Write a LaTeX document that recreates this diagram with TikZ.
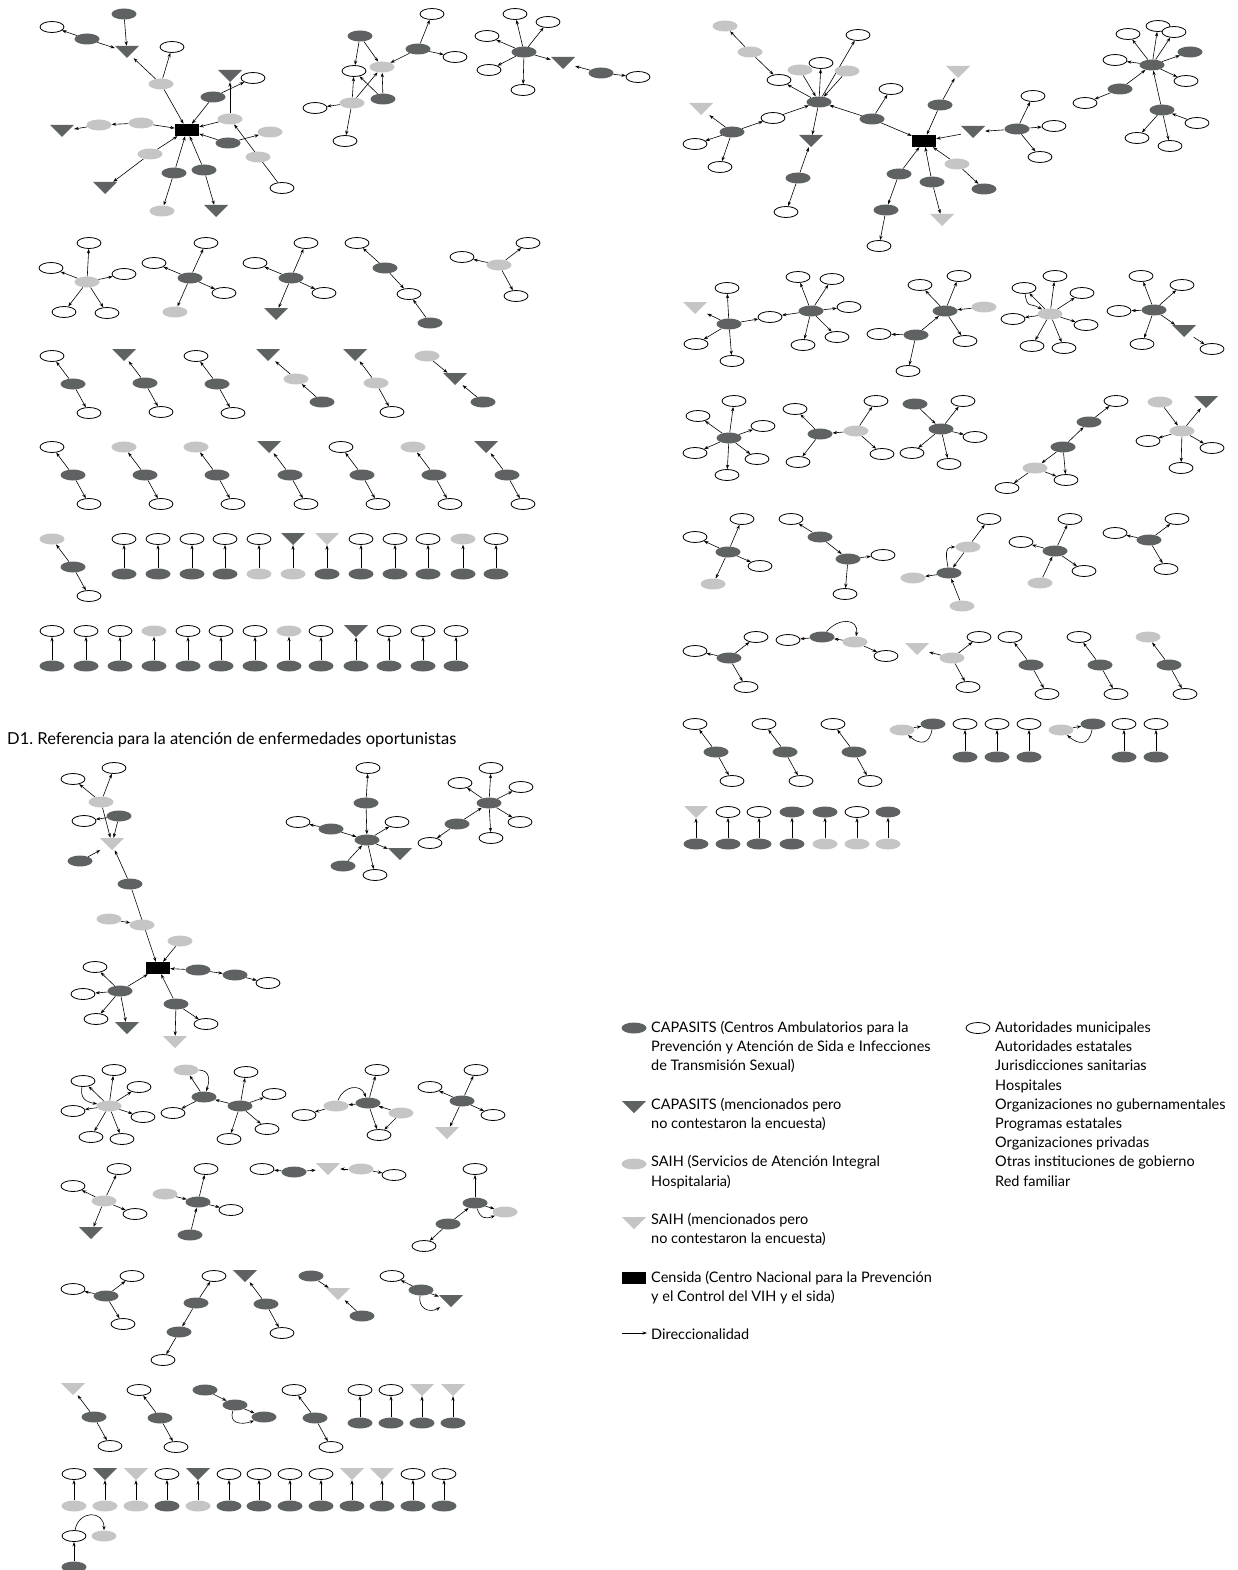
\documentclass[tikz,border=0pt]{standalone}
\usepackage{fontspec}
\setmainfont{Lato}
\usetikzlibrary{shapes.geometric,arrows.meta}
\definecolor{dkg}{RGB}{94,98,98}
\definecolor{ltg}{RGB}{196,197,196}
\pgfdeclarelayer{bg}
\pgfsetlayers{bg,main}
\tikzset{
  nw/.style={ellipse,draw=black,line width=0.8pt,fill=white,minimum width=24pt,minimum height=11pt,inner sep=0pt},
  nd/.style={ellipse,fill=dkg,minimum width=25pt,minimum height=11pt,inner sep=0pt},
  nl/.style={ellipse,fill=ltg,minimum width=25pt,minimum height=11pt,inner sep=0pt},
  tri/.style={rectangle,minimum width=24pt,minimum height=12pt,inner sep=0pt,
     path picture={\fill[#1] (path picture bounding box.north west) -- (path picture bounding box.north east) -- (path picture bounding box.south) -- cycle;}},
  nt/.style={tri=dkg},
  ntl/.style={tri=ltg},
  nr/.style={rectangle,fill=black,minimum width=24pt,minimum height=12pt,inner sep=0pt},
  arr/.style={line width=0.6pt,-{Stealth[length=4.5pt,width=3.2pt]}},
  leg/.style={anchor=base west,inner sep=0pt,font=\fontsize{14.5}{19}\selectfont},
  ttl/.style={anchor=base west,inner sep=0pt,font=\fontsize{16.5}{20}\selectfont},
}
\newcommand\myfan[2]{\begin{pgfonlayer}{bg}\foreach \q in {#2}{\draw[arr] (#1) -- (\q);}\end{pgfonlayer}}
\begin{document}
\begin{tikzpicture}[x=1pt,y=-1pt]
\useasboundingbox (0,0) rectangle (1238,1570);

% ---------- group a (top-left star)
\node[nd] (a1) at (124,14) {};
\node[nw] (a2) at (52,27) {};
\node[nd] (a3) at (87,39) {};
\node[nt] (a4) at (127,52) {};
\node[nw] (a5) at (172,47) {};
\node[nl] (a6) at (161,84) {};
\node[nt] (a7) at (230,76) {};
\node[nw] (a8) at (253,78) {};
\node[nd] (a9) at (213,97) {};
\node[nl] (a10) at (230,119) {};
\node[nt] (a11) at (62,131) {};
\node[nl] (a12) at (99,125) {};
\node[nl] (a13) at (141,123) {};
\node[nr] (a14) at (187,130) {};
\node[nl] (a15) at (270,132) {};
\node[nd] (a16) at (228,143) {};
\node[nl] (a17) at (150,154) {};
\node[nl] (a18) at (258,157) {};
\node[nd] (a19) at (174,173) {};
\node[nd] (a20) at (204,170) {};
\node[nw] (a21) at (282,188) {};
\node[nt] (a22) at (105,188) {};
\node[nl] (a23) at (162,211) {};
\node[nt] (a24) at (216,211) {};
\myfan{a1}{a4}
\myfan{a3}{a2,a4}
\myfan{a6}{a4,a5,a14}
\myfan{a9}{a14,a8}
\myfan{a10}{a7,a14}
\myfan{a13}{a14,a12}
\myfan{a12}{a11}
\myfan{a16}{a14,a15}
\myfan{a21}{a10}
\myfan{a17}{a14,a22}
\myfan{a19}{a14,a23}
\myfan{a20}{a14,a24}

% ---------- group b
\node[nw] (b1) at (432,14) {};
\node[nd] (b2) at (360,36) {};
\node[nd] (b3) at (418,49) {};
\node[nw] (b4) at (455,57) {};
\node[nw] (b5) at (354,71) {};
\node[nl] (b6) at (382,67) {};
\node[nw] (b7) at (315,108) {};
\node[nl] (b8) at (352,103) {};
\node[nd] (b9) at (383,99) {};
\node[nw] (b10) at (345,141) {};
\myfan{b3}{b1,b4,b6}
\myfan{b2}{b5,b6}
\myfan{b8}{b5,b6,b7,b10}
\myfan{b9}{b5,b6}

% ---------- group c
\node[nw] (c1) at (515,14) {};
\node[nw] (c2) at (548,22) {};
\node[nw] (c3) at (487,36) {};
\node[nd] (c4) at (524,52) {};
\node[nw] (c5) at (489,70) {};
\node[nt] (c6) at (563,63) {};
\node[nd] (c7) at (601,73) {};
\node[nw] (c8) at (638,77) {};
\node[nw] (c9) at (523,90) {};
\myfan{c4}{c1,c2,c3,c5,c9,c6}
\myfan{c7}{c6,c8}

% ---------- group d (top-right star)
\node[nl] (d1) at (725,26) {};
\node[nl] (d2) at (750,52) {};
\node[nw] (d3) at (858,35) {};
\node[nw] (d4) at (821,63) {};
\node[nl] (d5) at (800,70) {};
\node[nl] (d6) at (847,71) {};
\node[nw] (d7) at (779,80) {};
\node[ntl] (d8) at (958,72) {};
\node[nw] (d9) at (891,89) {};
\node[nd] (d10) at (819,102) {};
\node[nw] (d11) at (1033,96) {};
\node[ntl] (d12) at (701,109) {};
\node[nw] (d13) at (773,118) {};
\node[nd] (d14) at (872,119) {};
\node[nd] (d15) at (940,105) {};
\node[nd] (d16) at (732,132) {};
\node[nt] (d17) at (811,141) {};
\node[nr] (d18) at (924,141) {};
\node[nt] (d19) at (973,132) {};
\node[nd] (d20) at (1017,129) {};
\node[nw] (d21) at (1054,126) {};
\node[nw] (d22) at (695,144) {};
\node[nw] (d23) at (720,167) {};
\node[nw] (d24) at (1040,157) {};
\node[nl] (d25) at (957,164) {};
\node[nd] (d26) at (899,174) {};
\node[nd] (d27) at (932,182) {};
\node[nd] (d28) at (798,178) {};
\node[nd] (d29) at (984,189) {};
\node[nw] (d30) at (786,212) {};
\node[nd] (d31) at (886,210) {};
\node[ntl] (d32) at (942,220) {};
\node[nw] (d33) at (879,246) {};
\myfan{d2}{d1,d7}
\myfan{d10}{d7,d4,d3,d17}
\myfan{d5}{d10}
\myfan{d6}{d10}
\myfan{d28}{d17,d30}
\myfan{d14}{d10,d9,d18}
\myfan{d16}{d13,d12,d22,d23}
\myfan{d13}{d10}
\myfan{d15}{d8,d18}
\myfan{d19}{d18}
\myfan{d20}{d19,d11,d21,d24}
\myfan{d25}{d18,d29}
\myfan{d26}{d18,d31}
\myfan{d31}{d33}
\myfan{d27}{d18,d32}

% ---------- group f (far right)
\node[nw] (f1) at (1158,26) {};
\node[nw] (f2) at (1128,34) {};
\node[nw] (f3) at (1174,32) {};
\node[nd] (f4) at (1190,52) {};
\node[nw] (f5) at (1115,60) {};
\node[nd] (f6) at (1152,65) {};
\node[nw] (f7) at (1186,81) {};
\node[nd] (f8) at (1120,89) {};
\node[nw] (f9) at (1085,103) {};
\node[nd] (f10) at (1162,110) {};
\node[nw] (f11) at (1197,123) {};
\node[nw] (f12) at (1137,138) {};
\node[nw] (f13) at (1170,146) {};
\myfan{f6}{f1,f2,f3,f4,f5,f7}
\myfan{f8}{f6,f9}
\myfan{f10}{f6,f12,f13}
\myfan{f11}{f10}

% ---------- row 2 left
\node[nl] (g1) at (87,282) {};
\node[nw] (g2) at (89,243) {};
\node[nw] (g3) at (51,268) {};
\node[nw] (g4) at (124,274) {};
\node[nw] (g5) at (64,312) {};
\node[nw] (g6) at (107,313) {};
\myfan{g1}{g2,g3,g4,g5,g6}
\node[nd] (h1) at (190,278) {};
\node[nw] (h2) at (206,243) {};
\node[nw] (h3) at (154,263) {};
\node[nw] (h4) at (224,293) {};
\node[nl] (h5) at (175,312) {};
\myfan{h1}{h2,h3,h4,h5}
\node[nd] (i1) at (291,278) {};
\node[nw] (i2) at (306,243) {};
\node[nw] (i3) at (255,263) {};
\node[nw] (i4) at (324,293) {};
\node[nt] (i5) at (276,314) {};
\myfan{i1}{i2,i3,i4,i5}
\node[nw] (j1) at (357,243) {};
\node[nd] (j2) at (385,268) {};
\node[nw] (j3) at (409,294) {};
\node[nd] (j4) at (430,323) {};
\myfan{j2}{j1,j3}
\myfan{j4}{j3}
\node[nl] (k1) at (499,265) {};
\node[nw] (k2) at (462,257) {};
\node[nw] (k3) at (528,243) {};
\node[nw] (k4) at (516,296) {};
\myfan{k1}{k2,k3,k4}

% ---------- row 3 specials
\node[nt] (m1) at (268,355) {};
\node[nl] (m2) at (296,379) {};
\node[nd] (m3) at (322,402) {};
\myfan{m2}{m1}
\myfan{m3}{m2}
\node[nl] (n1) at (427,356) {};
\node[nt] (n2) at (455,379) {};
\node[nd] (n3) at (483,402) {};
\myfan{n1}{n2}
\myfan{n3}{n2}

% ---------- chains (top <- mid -> bottom)
\foreach \x/\y/\s/\m [count=\i] in {52/356/nw/nd, 124/355/nt/nd, 196/356/nw/nd, 355/355/nt/nl,
  52/447/nw/nd, 124/447/nl/nd, 196/447/nl/nd, 269/447/nt/nd, 341/447/nw/nd, 413/447/nl/nd, 486/447/nt/nd,
  52/539/nl/nd, 1010/637/nw/nd, 1079/637/nw/nd, 1148/637/nl/nd,
  695/724/nw/nd, 764/724/nw/nd, 833/724/nw/nd, 245/1276/nt/nd,
  73/1389/ntl/nd, 139/1390/nw/nd, 294/1390/nw/nd}{
  \node[\s] (ct\i) at (\x,\y) {};
  \node[\m] (cm\i) at (\x+21,\y+28) {};
  \node[nw] (cb\i) at (\x+37,\y+57) {};
  \begin{pgfonlayer}{bg}\draw[arr] (cm\i) -- (ct\i); \draw[arr] (cm\i) -- (cb\i);\end{pgfonlayer}
}

% ---------- pairs (bottom -> top)
\foreach \x/\y/\yb/\s/\b [count=\i] in {
  124/539/574/nw/nd, 158/539/574/nw/nd, 192/539/574/nw/nd, 225/539/574/nw/nd, 259/539/574/nw/nl, 293/539/574/nt/nl,
  327/539/574/ntl/nd, 361/539/574/nw/nd, 395/539/574/nw/nd, 428/539/574/nw/nd, 463/539/574/nl/nd, 496/539/574/nw/nd,
  52/631/666/nw/nd, 86/631/666/nw/nd, 120/631/666/nw/nd, 154/631/666/nl/nd, 188/631/666/nw/nd, 221/631/666/nw/nd,
  255/631/666/nw/nd, 289/631/666/nl/nd, 321/631/666/nw/nd, 356/631/666/nt/nd, 389/631/666/nw/nd, 423/631/666/nw/nd, 456/631/666/nw/nd,
  965/724/757/nw/nd, 997/724/757/nw/nd, 1029/724/757/nw/nd, 1124/724/757/nw/nd, 1156/724/757/nw/nd,
  696/812/844/ntl/nd, 728/812/844/nw/nd, 759/812/844/nw/nd, 792/812/844/nd/nd, 825/812/844/nd/nl, 857/812/844/nw/nl, 888/812/844/nd/nl,
  360/1390/1423/nw/nd, 391/1390/1423/nw/nd, 422/1390/1423/ntl/nd, 453/1390/1423/ntl/nd,
  74/1474/1506/nw/nl, 105/1474/1506/nt/nl, 136/1474/1506/ntl/nl, 167/1474/1506/nw/nd, 198/1474/1506/nt/nl, 229/1474/1506/nw/nd,
  259/1474/1506/nw/nd, 290/1474/1506/nw/nd, 321/1474/1506/nw/nd, 352/1474/1506/ntl/nd, 382/1474/1506/ntl/nd, 413/1474/1506/nw/nd, 444/1474/1506/nw/nd}{
  \node[\s] (pt\i) at (\x,\y) {};
  \node[\b] (pb\i) at (\x,\yb) {};
  \begin{pgfonlayer}{bg}\draw[arr] (pb\i) -- (pt\i);\end{pgfonlayer}
}

% ---------- right row A
\node[ntl] (ra1) at (695,308) {};
\node[nw] (ra2) at (727,288) {};
\node[nd] (ra3) at (729,324) {};
\node[nw] (ra4) at (696,344) {};
\node[nw] (ra5) at (732,361) {};
\node[nw] (ra6) at (770,317) {};
\node[nd] (ra7) at (811,311) {};
\node[nw] (ra8) at (798,277) {};
\node[nw] (ra9) at (832,279) {};
\node[nw] (ra10) at (849,307) {};
\node[nw] (ra11) at (837,337) {};
\node[nw] (ra12) at (803,345) {};
\myfan{ra3}{ra1,ra2,ra4,ra5,ra6}
\myfan{ra7}{ra6,ra8,ra9,ra10,ra11,ra12}
\node[nw] (rb1) at (920,285) {};
\node[nw] (rb2) at (959,276) {};
\node[nd] (rb3) at (945,311) {};
\node[nl] (rb4) at (984,307) {};
\node[nd] (rb5) at (916,335) {};
\node[nw] (rb6) at (879,334) {};
\node[nw] (rb7) at (965,341) {};
\node[nw] (rb8) at (908,371) {};
\myfan{rb3}{rb1,rb2,rb7}
\myfan{rb4}{rb3}
\myfan{rb5}{rb3,rb6,rb8}
\node[nw] (rc1) at (1024,288) {};
\node[nw] (rc2) at (1055,276) {};
\node[nw] (rc3) at (1082,293) {};
\node[nl] (rc4) at (1050,314) {};
\node[nw] (rc5) at (1013,319) {};
\node[nw] (rc6) at (1086,325) {};
\node[nw] (rc7) at (1032,346) {};
\node[nw] (rc8) at (1064,348) {};
\myfan{rc4}{rc1,rc2,rc3,rc5,rc6,rc7,rc8}
\begin{pgfonlayer}{bg}\draw[arr] (rc1) to[out=-80,in=150,looseness=1.8] (rc4);\end{pgfonlayer}
\node[nw] (rd1) at (1141,276) {};
\node[nw] (rd2) at (1182,285) {};
\node[nd] (rd3) at (1154,310) {};
\node[nw] (rd4) at (1119,311) {};
\node[nw] (rd5) at (1142,344) {};
\node[nt] (rd6) at (1184,331) {};
\node[nw] (rd7) at (1212,349) {};
\myfan{rd3}{rd1,rd2,rd4,rd5,rd6}
\myfan{rd6}{rd7}

% ---------- right row B
\node[nw] (re1) at (734,401) {};
\node[nw] (re2) at (698,416) {};
\node[nw] (re3) at (763,426) {};
\node[nd] (re4) at (729,438) {};
\node[nw] (re5) at (695,453) {};
\node[nw] (re6) at (757,459) {};
\node[nw] (re7) at (727,475) {};
\myfan{re4}{re1,re2,re3,re5,re6,re7}
\node[nw] (rf1) at (795,409) {};
\node[nd] (rf2) at (820,434) {};
\node[nl] (rf3) at (856,431) {};
\node[nw] (rf4) at (876,401) {};
\node[nw] (rf5) at (798,462) {};
\node[nw] (rf6) at (882,454) {};
\myfan{rf2}{rf1,rf5}
\myfan{rf3}{rf2,rf4,rf6}
\node[nd] (rg1) at (915,404) {};
\node[nw] (rg2) at (963,401) {};
\node[nd] (rg3) at (941,429) {};
\node[nw] (rg4) at (975,437) {};
\node[nw] (rg5) at (912,453) {};
\node[nw] (rg6) at (949,464) {};
\myfan{rg1}{rg3}
\myfan{rg3}{rg2,rg4,rg5,rg6}
\node[nw] (rh1) at (1116,401) {};
\node[nd] (rh2) at (1089,422) {};
\node[nd] (rh3) at (1063,447) {};
\node[nl] (rh4) at (1035,468) {};
\node[nw] (rh5) at (1007,488) {};
\node[nw] (rh6) at (1066,480) {};
\myfan{rh2}{rh1}
\myfan{rh3}{rh2,rh4,rh6}
\myfan{rh4}{rh5,rh6}
\node[nl] (ri1) at (1160,402) {};
\node[nt] (ri2) at (1206,402) {};
\node[nl] (ri3) at (1182,431) {};
\node[nw] (ri4) at (1148,441) {};
\node[nw] (ri5) at (1212,448) {};
\node[nw] (ri6) at (1181,468) {};
\myfan{ri1}{ri3}
\myfan{ri3}{ri2,ri4,ri5,ri6}

% ---------- right row C
\node[nw] (sa1) at (742,519) {};
\node[nw] (sa2) at (695,537) {};
\node[nd] (sa3) at (728,552) {};
\node[nw] (sa4) at (760,566) {};
\node[nl] (sa5) at (713,584) {};
\myfan{sa3}{sa1,sa2,sa4,sa5}
\node[nw] (sb1) at (791,519) {};
\node[nd] (sb2) at (820,537) {};
\node[nd] (sb3) at (848,559) {};
\node[nw] (sb4) at (883,555) {};
\node[nw] (sb5) at (845,594) {};
\myfan{sb2}{sb1,sb3}
\myfan{sb3}{sb4,sb5}
\node[nw] (sc1) at (989,519) {};
\node[nl] (sc2) at (968,547) {};
\node[nd] (sc3) at (949,573) {};
\node[nl] (sc4) at (913,578) {};
\node[nl] (sc5) at (962,606) {};
\myfan{sc2}{sc1,sc3}
\myfan{sc3}{sc4}
\myfan{sc5}{sc3}
\begin{pgfonlayer}{bg}\draw[arr] (sc3) to[out=100,in=180,looseness=1.3] (sc2);\end{pgfonlayer}
\node[nw] (sd1) at (1070,519) {};
\node[nw] (sd2) at (1021,542) {};
\node[nd] (sd3) at (1055,551) {};
\node[nw] (sd4) at (1084,571) {};
\node[nl] (sd5) at (1040,583) {};
\myfan{sd3}{sd1,sd2,sd4}
\myfan{sd5}{sd3}
\node[nw] (se1) at (1177,519) {};
\node[nw] (se2) at (1115,533) {};
\node[nd] (se3) at (1149,540) {};
\node[nw] (se4) at (1166,569) {};
\myfan{se3}{se1,se2,se4}

% ---------- right row D
\node[nw] (ta1) at (756,637) {};
\node[nw] (ta2) at (695,651) {};
\node[nd] (ta3) at (729,658) {};
\node[nw] (ta4) at (746,687) {};
\myfan{ta3}{ta1,ta2,ta4}
\node[nw] (tb1) at (788,640) {};
\node[nd] (tb2) at (822,637) {};
\node[nl] (tb3) at (855,642) {};
\node[nw] (tb4) at (886,656) {};
\myfan{tb2}{tb1}
\myfan{tb3}{tb2,tb4}
\begin{pgfonlayer}{bg}\draw[arr] (tb2) to[out=50,in=80,looseness=1.6] (tb3);\end{pgfonlayer}
\node[ntl] (tc1) at (917,649) {};
\node[nl] (tc2) at (952,658) {};
\node[nw] (tc3) at (979,637) {};
\node[nw] (tc4) at (968,687) {};
\myfan{tc2}{tc1,tc3,tc4}

% ---------- right row E specials
\node[nl] (ua1) at (902,730) {};
\node[nd] (ua2) at (933,724) {};
\node[nl] (ub1) at (1061,730) {};
\node[nd] (ub2) at (1093,724) {};
\myfan{ua1}{ua2}
\myfan{ub1}{ub2}
\begin{pgfonlayer}{bg}
\draw[arr] (ua2) to[out=-100,in=-40,looseness=1.6] (ua1);
\draw[arr] (ub2) to[out=-100,in=-40,looseness=1.6] (ub1);
\end{pgfonlayer}

% ---------- title
\node[ttl] (title) at (7,744) {D1.\ Referencia para la atención de enfermedades oportunistas};

% ---------- bottom-left big
\node[nw] (v1) at (114,768) {};
\node[nw] (v2) at (73,779) {};
\node[nl] (v3) at (101,802) {};
\node[nd] (v4) at (119,816) {};
\node[nw] (v5) at (84,821) {};
\node[ntl] (v6) at (112,844) {};
\node[nd] (v7) at (80,861) {};
\node[nd] (v8) at (130,884) {};
\node[nl] (v9) at (109,919) {};
\node[nl] (v10) at (142,925) {};
\node[nl] (v11) at (180,941) {};
\node[nr] (v12) at (158,968) {};
\node[nd] (v13) at (198,970) {};
\node[nd] (v14) at (235,975) {};
\node[nw] (v15) at (268,983) {};
\node[nw] (v16) at (95,967) {};
\node[nw] (v17) at (83,994) {};
\node[nd] (v18) at (120,991) {};
\node[nw] (v19) at (96,1019) {};
\node[nt] (v20) at (127,1028) {};
\node[nd] (v21) at (176,1004) {};
\node[nw] (v22) at (206,1024) {};
\node[ntl] (v23) at (175,1042) {};
\myfan{v3}{v1,v2,v6}
\myfan{v4}{v5,v6}
\myfan{v7}{v6}
\myfan{v8}{v6,v12}
\myfan{v9}{v10}
\myfan{v11}{v12}
\myfan{v13}{v12,v14}
\myfan{v14}{v15}
\myfan{v18}{v12,v16,v17,v19,v20}
\myfan{v21}{v12,v22,v23}
\node[nw] (w1) at (368,768) {};
\node[nd] (w2) at (366,803) {};
\node[nw] (w3) at (298,822) {};
\node[nd] (w4) at (331,829) {};
\node[nw] (w5) at (397,822) {};
\node[nd] (w6) at (367,840) {};
\node[nt] (w7) at (400,854) {};
\node[nd] (w8) at (343,866) {};
\node[nw] (w9) at (375,875) {};
\myfan{w2}{w1,w6}
\myfan{w4}{w3,w6}
\myfan{w6}{w5,w7,w9}
\myfan{w8}{w6}
\node[nw] (xa1) at (491,768) {};
\node[nw] (xa2) at (460,783) {};
\node[nw] (xa3) at (521,787) {};
\node[nd] (xa4) at (489,803) {};
\node[nw] (xa5) at (520,822) {};
\node[nd] (xa6) at (457,824) {};
\node[nw] (xa7) at (491,838) {};
\node[nw] (xa8) at (430,843) {};
\myfan{xa4}{xa1,xa2,xa3,xa5,xa7}
\myfan{xa6}{xa4,xa8}

% ---------- row G
\node[nw] (ya1) at (114,1070) {};
\node[nw] (ya2) at (83,1081) {};
\node[nw] (ya3) at (139,1087) {};
\node[nl] (ya4) at (109,1106) {};
\node[nw] (ya5) at (73,1111) {};
\node[nw] (ya6) at (143,1117) {};
\node[nw] (ya7) at (91,1137) {};
\node[nw] (ya8) at (122,1139) {};
\myfan{ya4}{ya1,ya2,ya3,ya5,ya6,ya7,ya8}
\begin{pgfonlayer}{bg}\draw[arr] (ya2) to[out=-100,in=170,looseness=1.3] (ya4);\end{pgfonlayer}
\node[nl] (yb1) at (186,1070) {};
\node[nd] (yb2) at (204,1097) {};
\node[nw] (yb3) at (173,1113) {};
\node[nd] (yb4) at (240,1106) {};
\node[nw] (yb5) at (246,1072) {};
\node[nw] (yb6) at (274,1094) {};
\node[nw] (yb7) at (267,1129) {};
\node[nw] (yb8) at (229,1139) {};
\myfan{yb2}{yb1,yb3}
\myfan{yb4}{yb2,yb5,yb6,yb7,yb8}
\begin{pgfonlayer}{bg}\draw[arr] (yb1) to[out=0,in=70,looseness=1.3] (yb2);\end{pgfonlayer}
\node[nw] (yc1) at (377,1070) {};
\node[nd] (yc2) at (368,1103) {};
\node[nl] (yc3) at (336,1106) {};
\node[nw] (yc4) at (304,1115) {};
\node[nl] (yc5) at (401,1113) {};
\node[nw] (yc6) at (379,1135) {};
\myfan{yc2}{yc1,yc3,yc6}
\myfan{yc3}{yc4}
\myfan{yc5}{yc2,yc6}
\begin{pgfonlayer}{bg}\draw[arr] (yc3) to[out=70,in=110,looseness=1.4] (yc2);\end{pgfonlayer}
\node[nw] (yd1) at (476,1070) {};
\node[nw] (yd2) at (430,1087) {};
\node[nd] (yd3) at (462,1101) {};
\node[nw] (yd4) at (493,1115) {};
\node[ntl] (yd5) at (447,1133) {};
\myfan{yd3}{yd1,yd2,yd4,yd5}

% ---------- row H
\node[nw] (za1) at (119,1169) {};
\node[nw] (za2) at (73,1186) {};
\node[nl] (za3) at (104,1201) {};
\node[nw] (za4) at (135,1214) {};
\node[nt] (za5) at (91,1233) {};
\myfan{za3}{za1,za2,za4,za5}
\node[nw] (zb1) at (206,1169) {};
\node[nl] (zb2) at (165,1194) {};
\node[nd] (zb3) at (198,1202) {};
\node[nw] (zb4) at (231,1210) {};
\node[nd] (zb5) at (190,1235) {};
\myfan{zb3}{zb1,zb4}
\myfan{zb2}{zb3}
\myfan{zb5}{zb3}
\node[nw] (zc1) at (262,1169) {};
\node[nd] (zc2) at (294,1172) {};
\node[ntl] (zc3) at (328,1169) {};
\node[nl] (zc4) at (361,1169) {};
\node[nw] (zc5) at (394,1175) {};
\myfan{zc2}{zc1,zc3}
\myfan{zc4}{zc3,zc5}
\node[nw] (zd1) at (475,1169) {};
\node[nd] (zd2) at (475,1203) {};
\node[nl] (zd3) at (505,1212) {};
\node[nd] (zd4) at (448,1224) {};
\node[nw] (zd5) at (424,1246) {};
\myfan{zd2}{zd1,zd3}
\myfan{zd4}{zd2,zd5}
\begin{pgfonlayer}{bg}\draw[arr] (zd2) to[out=-70,in=-160,looseness=1.4] (zd3);\end{pgfonlayer}

% ---------- row I
\node[nw] (qa1) at (132,1276) {};
\node[nw] (qa2) at (73,1289) {};
\node[nd] (qa3) at (106,1296) {};
\node[nw] (qa4) at (123,1324) {};
\myfan{qa3}{qa1,qa2,qa4}
\node[nw] (qb1) at (214,1276) {};
\node[nd] (qb2) at (196,1303) {};
\node[nd] (qb3) at (179,1332) {};
\node[nw] (qb4) at (163,1360) {};
\myfan{qb2}{qb1,qb3}
\myfan{qb3}{qb4}
\node[nd] (qd1) at (311,1276) {};
\node[ntl] (qd2) at (338,1294) {};
\node[nd] (qd3) at (362,1316) {};
\myfan{qd1}{qd2}
\myfan{qd3}{qd2}
\node[nw] (qe1) at (392,1276) {};
\node[nd] (qe2) at (421,1290) {};
\node[nt] (qe3) at (451,1301) {};
\myfan{qe2}{qe1,qe3}
\begin{pgfonlayer}{bg}\draw[arr] (qe2) to[out=-100,in=-150,looseness=1.4] (qe3);\end{pgfonlayer}

% ---------- row J special
\node[nd] (ja1) at (205,1390) {};
\node[nd] (ja2) at (235,1405) {};
\node[nd] (ja3) at (264,1417) {};
\myfan{ja1}{ja2}
\myfan{ja2}{ja3}
\begin{pgfonlayer}{bg}\draw[arr] (ja2) to[out=-110,in=-160,looseness=1.5] (ja3);\end{pgfonlayer}

% ---------- row L
\node[nw] (la1) at (74,1536) {};
\node[nl] (la2) at (104,1536) {};
\node[nd] (la3) at (74,1567) {};
\myfan{la3}{la1}
\begin{pgfonlayer}{bg}\draw[arr] (la1) to[out=80,in=90,looseness=1.8] (la2);\end{pgfonlayer}

% ---------- legend
\node[nd] (lg1) at (634,1028) {};
\node[leg] (lt1) at (651,1032) {CAPASITS (Centros Ambulatorios para la};
\node[leg] (lt2) at (651,1051) {Prevención y Atención de Sida e Infecciones};
\node[leg] (lt3) at (651,1070) {de Transmisión Sexual)};
\node[nt] (lg2) at (634,1107) {};
\node[leg] (lt4) at (651,1109) {CAPASITS (mencionados pero};
\node[leg] (lt5) at (651,1128) {no contestaron la encuesta)};
\node[nl] (lg3) at (634,1164) {};
\node[leg] (lt6) at (651,1166) {SAIH (Servicios de Atención Integral};
\node[leg] (lt7) at (651,1186) {Hospitalaria)};
\node[ntl] (lg4) at (634,1223) {};
\node[leg] (lt8) at (651,1224) {SAIH (mencionados pero};
\node[leg] (lt9) at (651,1243) {no contestaron la encuesta)};
\node[nr] (lg5) at (634,1278) {};
\node[leg] (lt10) at (651,1282) {Censida (Centro Nacional para la Prevención};
\node[leg] (lt11) at (651,1301) {y el Control del VIH y el sida)};
\coordinate (ls) at (622,1333);
\coordinate (le) at (647,1333);
\draw[arr] (ls) -- (le);
\node[leg] (lt12) at (651,1339) {Direccionalidad};
\node[nw] (lg6) at (978,1028) {};
\node[leg] (rt1) at (995,1032) {Autoridades municipales};
\node[leg] (rt2) at (995,1051) {Autoridades estatales};
\node[leg] (rt3) at (995,1070) {Jurisdicciones sanitarias};
\node[leg] (rt4) at (995,1090) {Hospitales};
\node[leg] (rt5) at (995,1109) {Organizaciones no gubernamentales};
\node[leg] (rt6) at (995,1128) {Programas estatales};
\node[leg] (rt7) at (995,1147) {Organizaciones privadas};
\node[leg] (rt8) at (995,1166) {Otras instituciones de gobierno};
\node[leg] (rt9) at (995,1186) {Red familiar};
\end{tikzpicture}
\end{document}
